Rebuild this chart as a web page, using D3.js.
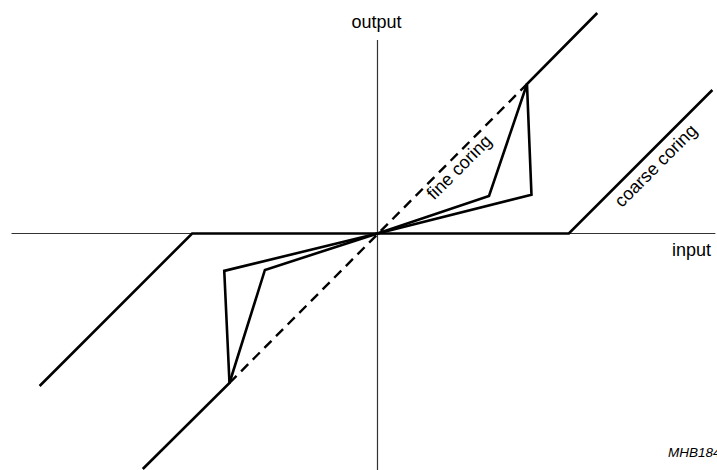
<!DOCTYPE html>
<html>
<head>
<meta charset="utf-8">
<script src="https://cdn.jsdelivr.net/npm/d3@7"></script>
<style>
  body { margin: 0; background: #fff; }
  text { font-family: "Liberation Sans", Arial, sans-serif; }
</style>
</head>
<body>
<div id="my_dataviz"></div>
<script>
(function(){
// transfer curves, input -> output (1 = knee of the fine coring curve)
var coarseIn = [-2.26, -1.24, 1.28, 2.24];
var coarseOut = [-1.02, 0, 0, 0.96];

var fineInA = [-1.57, -0.99, -1.025, 0, 1.03, 1.0, 1.47];
var fineOutA = [-1.575, -1.0, -0.25, 0, 0.26, 1.0, 1.475];

var fineInB = [-0.99, -0.753, 0, 0.746, 1.0];
var fineOutB = [-1.0, -0.244, 0, 0.251, 1.0];

var linearIn = [-0.99, 1.0];
var linearOut = [-1.0, 1.0];

var axisX = [-2.448, 2.26];
var axisY = [-1.6, 1.294];

var labels = ["input", "output", "fine coring", "coarse coring", "MHB184"];

// set the dimensions of the graph
var width = 717,
    height = 470;

var svg = d3.select("#my_dataviz")
    .append("svg")
    .attr("width", width)
    .attr("height", height);

var x = d3.scaleLinear()
    .domain([-2.525, 2.271])
    .range([0, width]);
var y = d3.scaleLinear()
    .domain([1.562, -1.582])
    .range([0, height]);

var zip = function (a, b) { return a.map(function (v, i) { return [v, b[i]]; }); };
var line = d3.line()
    .x(function (d) { return x(d[0]); })
    .y(function (d) { return y(d[1]); });

// axes
svg.append("line")
    .attr("x1", x(axisX[0])).attr("x2", x(axisX[1]))
    .attr("y1", y(0)).attr("y2", y(0))
    .attr("stroke", "#333").attr("stroke-width", 1.2);
svg.append("line")
    .attr("x1", x(0)).attr("x2", x(0))
    .attr("y1", y(axisY[0])).attr("y2", y(axisY[1]))
    .attr("stroke", "#333").attr("stroke-width", 1.2);

// curves
svg.append("path")
    .datum(zip(linearIn, linearOut))
    .attr("fill", "none")
    .attr("stroke", "#000")
    .attr("stroke-width", 2.4)
    .attr("stroke-dasharray", "10,6.5")
    .attr("d", line);

[zip(coarseIn, coarseOut), zip(fineInA, fineOutA), zip(fineInB, fineOutB)].forEach(function (d) {
    svg.append("path")
        .datum(d)
        .attr("fill", "none")
        .attr("stroke", "#000")
        .attr("stroke-width", 2.6)
        .attr("stroke-linejoin", "miter")
        .attr("d", line);
});

// labels
svg.append("text")
    .attr("x", x(0) - 1)
    .attr("y", 28)
    .attr("text-anchor", "middle")
    .style("font-size", "18px")
    .text(labels[1]);

svg.append("text")
    .attr("x", 711)
    .attr("y", y(0) + 22)
    .attr("text-anchor", "end")
    .style("font-size", "18px")
    .text(labels[0]);

svg.append("text")
    .attr("transform", "translate(" + x(0.575) + "," + y(0.415) + ") rotate(-45)")
    .attr("text-anchor", "middle")
    .style("font-size", "18px")
    .text(labels[2]);

svg.append("text")
    .attr("transform", "translate(" + x(1.89) + "," + y(0.425) + ") rotate(-45)")
    .attr("text-anchor", "middle")
    .style("font-size", "18px")
    .text(labels[3]);

svg.append("text")
    .attr("x", 668)
    .attr("y", 457)
    .style("font-size", "13.5px")
    .style("font-style", "italic")
    .text(labels[4]);
})();
</script>
</body>
</html>
